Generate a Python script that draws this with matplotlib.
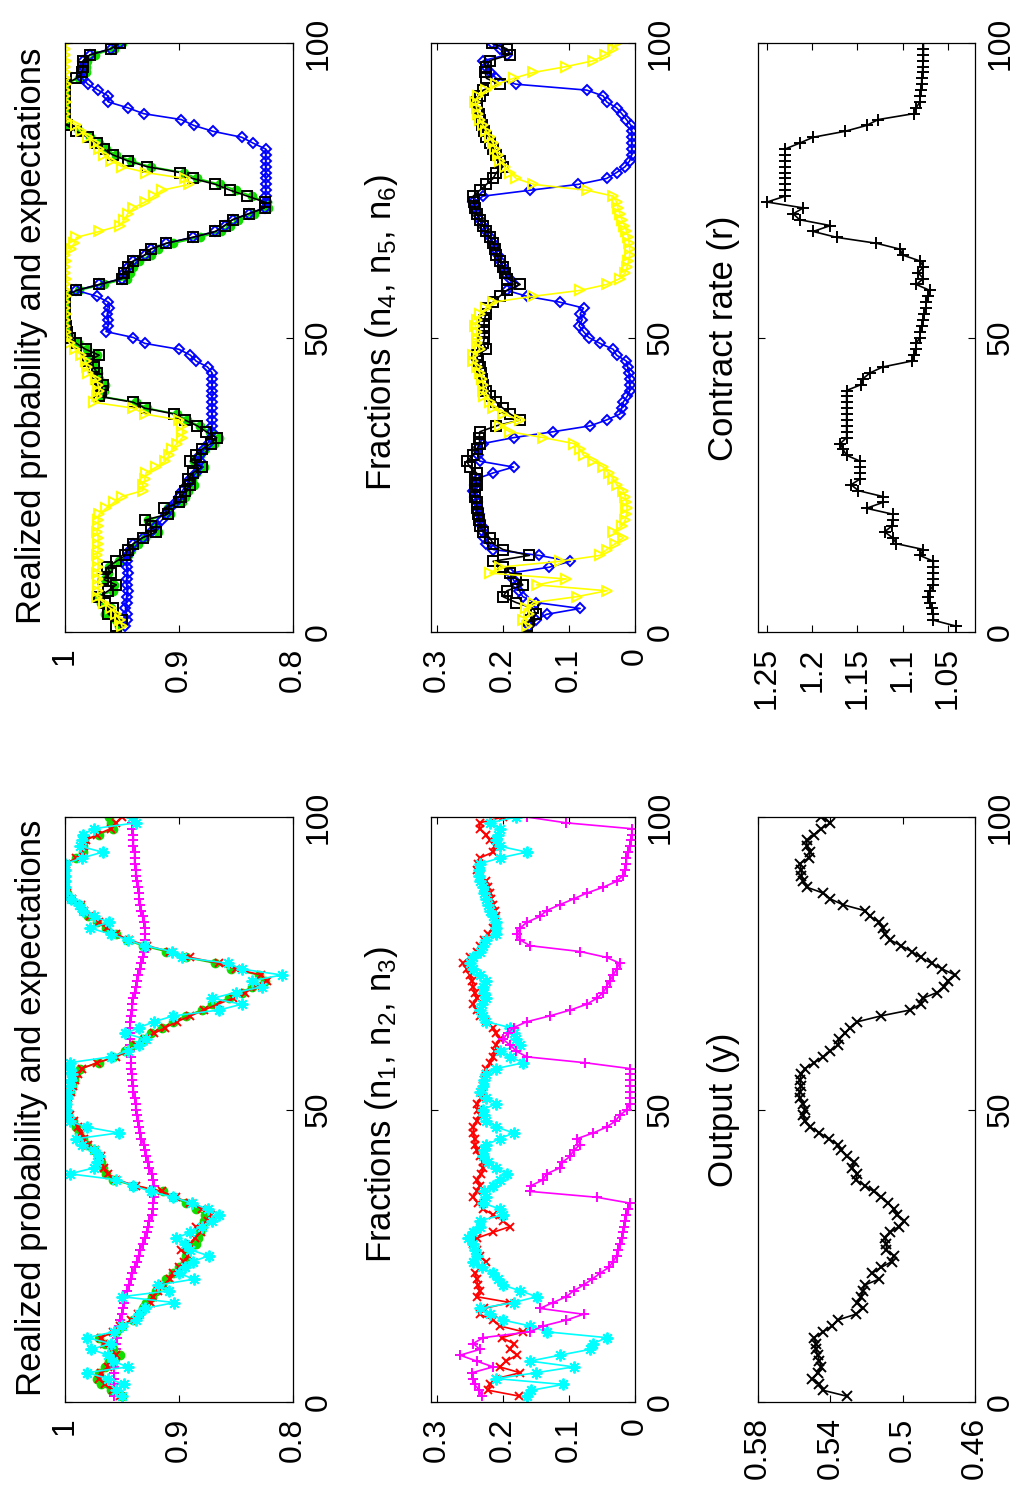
import numpy as np
import matplotlib
matplotlib.use('Agg')
import matplotlib.pyplot as plt

plt.rcParams['font.family'] = ['Liberation Sans', 'DejaVu Sans']
plt.rcParams['mathtext.fontset'] = 'custom'
plt.rcParams['mathtext.rm'] = 'Liberation Sans'
plt.rcParams['mathtext.it'] = 'Liberation Sans:italic'

W, H = 1016, 1488

# time index (periods 1..100)
t = np.arange(1, 101)

# ---- realized probability and expectations (first group) ----
prob_a_green = [0.950, 0.960, 0.968, 0.972, 0.970, 0.965, 0.961, 0.952, 0.958, 0.965,
                0.970, 0.955, 0.950, 0.940, 0.935, 0.932, 0.929, 0.924, 0.920, 0.915,
                0.911, 0.905, 0.900, 0.895, 0.894, 0.894, 0.885, 0.883, 0.882, 0.880,
                0.878, 0.877, 0.885, 0.894, 0.905, 0.914, 0.940, 0.958, 0.964, 0.967,
                0.968, 0.970, 0.975, 0.981, 0.984, 0.988, 0.990, 0.993, 0.997, 0.999,
                0.999, 0.998, 0.996, 0.994, 0.992, 0.990, 0.987, 0.970, 0.958, 0.947,
                0.940, 0.932, 0.925, 0.915, 0.905, 0.894, 0.880, 0.871, 0.856, 0.845,
                0.836, 0.825, 0.830, 0.854, 0.868, 0.894, 0.911, 0.932, 0.946, 0.955,
                0.964, 0.972, 0.980, 0.984, 0.987, 0.995, 0.998, 1.000, 1.000, 1.000,
                1.000, 1.000, 0.990, 0.984, 0.984, 0.983, 0.970, 0.958, 0.960, 0.961]
prob_a_red = [0.952, 0.958, 0.965, 0.970, 0.968, 0.962, 0.960, 0.955, 0.960, 0.966,
              0.968, 0.958, 0.952, 0.942, 0.936, 0.930, 0.925, 0.923, 0.918, 0.913,
              0.908, 0.905, 0.900, 0.896, 0.892, 0.898, 0.890, 0.886, 0.881, 0.885,
              0.875, 0.872, 0.880, 0.890, 0.903, 0.915, 0.938, 0.955, 0.962, 0.966,
              0.969, 0.968, 0.974, 0.980, 0.983, 0.986, 0.989, 0.992, 0.996, 0.998,
              0.998, 0.997, 0.995, 0.993, 0.991, 0.989, 0.985, 0.972, 0.955, 0.945,
              0.938, 0.930, 0.922, 0.912, 0.902, 0.890, 0.878, 0.866, 0.853, 0.842,
              0.832, 0.823, 0.828, 0.850, 0.865, 0.890, 0.908, 0.928, 0.944, 0.955,
              0.963, 0.970, 0.978, 0.983, 0.986, 0.994, 0.998, 1.000, 1.000, 1.000,
              1.000, 0.999, 0.990, 0.985, 0.983, 0.982, 0.972, 0.960, 0.955, 0.950]
prob_a_cyan = [0.950, 0.955, 0.948, 0.962, 0.981, 0.945, 0.958, 0.962, 0.977, 0.960,
               0.981, 0.957, 0.950, 0.938, 0.935, 0.930, 0.904, 0.950, 0.909, 0.918,
               0.887, 0.900, 0.895, 0.888, 0.874, 0.890, 0.895, 0.903, 0.890, 0.880,
               0.871, 0.865, 0.875, 0.889, 0.905, 0.925, 0.940, 0.955, 0.996, 0.975,
               0.972, 0.970, 0.975, 0.985, 0.990, 0.953, 0.981, 0.996, 0.998, 0.999,
               0.999, 0.998, 0.997, 0.996, 0.995, 0.994, 0.996, 0.996, 0.960, 0.945,
               0.935, 0.929, 0.947, 0.935, 0.922, 0.905, 0.865, 0.845, 0.871, 0.850,
               0.827, 0.836, 0.810, 0.845, 0.857, 0.897, 0.906, 0.930, 0.945, 0.960,
               0.978, 0.961, 0.975, 0.984, 0.988, 0.995, 1.000, 1.000, 1.000, 1.000,
               1.000, 1.000, 0.985, 0.967, 0.987, 0.985, 0.984, 0.975, 0.938, 0.941]
prob_a_magenta = [0.957, 0.957, 0.957, 0.957, 0.957, 0.957, 0.956, 0.956, 0.955, 0.955,
                  0.954, 0.954, 0.953, 0.952, 0.950, 0.949, 0.948, 0.947, 0.946, 0.944,
                  0.942, 0.941, 0.939, 0.937, 0.935, 0.934, 0.932, 0.930, 0.928, 0.927,
                  0.926, 0.924, 0.923, 0.923, 0.922, 0.922, 0.922, 0.923, 0.924, 0.926,
                  0.927, 0.929, 0.930, 0.931, 0.933, 0.934, 0.935, 0.936, 0.937, 0.938,
                  0.938, 0.939, 0.940, 0.940, 0.941, 0.941, 0.942, 0.942, 0.942, 0.943,
                  0.943, 0.943, 0.943, 0.943, 0.943, 0.942, 0.941, 0.941, 0.940, 0.939,
                  0.938, 0.937, 0.936, 0.934, 0.933, 0.932, 0.931, 0.930, 0.930, 0.930,
                  0.930, 0.931, 0.932, 0.933, 0.934, 0.935, 0.935, 0.936, 0.937, 0.938,
                  0.938, 0.939, 0.939, 0.939, 0.940, 0.940, 0.940, 0.941, 0.941, 0.941]

# ---- realized probability and expectations (second group) ----
prob_b_green = [0.953, 0.955, 0.965, 0.960, 0.968, 0.971, 0.958, 0.957, 0.965, 0.962,
                0.961, 0.953, 0.945, 0.942, 0.936, 0.930, 0.918, 0.922, 0.927, 0.908,
                0.910, 0.897, 0.895, 0.892, 0.887, 0.889, 0.885, 0.878, 0.887, 0.882,
                0.877, 0.869, 0.865, 0.873, 0.882, 0.893, 0.902, 0.928, 0.938, 0.968,
                0.966, 0.965, 0.970, 0.971, 0.974, 0.979, 0.972, 0.981, 0.989, 0.995,
                0.998, 0.999, 1.000, 1.000, 1.000, 1.000, 0.999, 0.988, 0.966, 0.946,
                0.943, 0.940, 0.935, 0.925, 0.918, 0.905, 0.882, 0.863, 0.855, 0.848,
                0.834, 0.822, 0.823, 0.836, 0.850, 0.864, 0.884, 0.896, 0.925, 0.942,
                0.955, 0.964, 0.970, 0.978, 0.988, 0.997, 1.000, 1.000, 1.000, 1.000,
                1.000, 1.000, 1.000, 0.988, 0.982, 0.982, 0.981, 0.974, 0.957, 0.950]
prob_b_blue = [0.947, 0.946, 0.946, 0.947, 0.946, 0.946, 0.945, 0.946, 0.946, 0.945,
               0.946, 0.946, 0.945, 0.943, 0.940, 0.932, 0.925, 0.920, 0.915, 0.911,
               0.908, 0.903, 0.900, 0.897, 0.893, 0.890, 0.885, 0.883, 0.882, 0.882,
               0.878, 0.875, 0.872, 0.871, 0.871, 0.871, 0.871, 0.871, 0.871, 0.871,
               0.871, 0.871, 0.871, 0.871, 0.875, 0.885, 0.890, 0.900, 0.930, 0.940,
               0.964, 0.962, 0.962, 0.963, 0.961, 0.962, 0.972, 0.990, 0.970, 0.950,
               0.948, 0.945, 0.940, 0.930, 0.925, 0.911, 0.888, 0.868, 0.860, 0.853,
               0.839, 0.825, 0.824, 0.824, 0.824, 0.824, 0.824, 0.824, 0.824, 0.824,
               0.824, 0.824, 0.835, 0.845, 0.870, 0.887, 0.898, 0.931, 0.945, 0.962,
               0.962, 0.971, 0.980, 0.985, 0.985, 0.984, 0.984, 0.978, 0.960, 0.952]
prob_b_black = [0.955, 0.950, 0.962, 0.958, 0.965, 0.970, 0.962, 0.955, 0.967, 0.960,
                0.963, 0.955, 0.947, 0.945, 0.940, 0.932, 0.920, 0.925, 0.930, 0.910,
                0.913, 0.900, 0.898, 0.895, 0.890, 0.892, 0.888, 0.880, 0.890, 0.885,
                0.880, 0.872, 0.867, 0.876, 0.884, 0.895, 0.904, 0.930, 0.940, 0.970,
                0.968, 0.967, 0.972, 0.972, 0.975, 0.980, 0.970, 0.982, 0.990, 0.996,
                0.998, 0.999, 1.000, 1.000, 1.000, 1.000, 1.000, 0.990, 0.970, 0.950,
                0.948, 0.945, 0.940, 0.930, 0.925, 0.911, 0.888, 0.868, 0.860, 0.853,
                0.839, 0.825, 0.825, 0.840, 0.855, 0.868, 0.888, 0.899, 0.928, 0.945,
                0.958, 0.966, 0.972, 0.980, 0.990, 0.998, 1.000, 1.000, 1.000, 1.000,
                1.000, 1.000, 1.000, 0.990, 0.985, 0.984, 0.984, 0.978, 0.960, 0.952]
prob_b_yellow = [0.950, 0.952, 0.955, 0.960, 0.966, 0.972, 0.971, 0.971, 0.971, 0.972,
                 0.971, 0.971, 0.972, 0.971, 0.971, 0.971, 0.972, 0.971, 0.971, 0.970,
                 0.964, 0.957, 0.950, 0.932, 0.932, 0.930, 0.929, 0.920, 0.912, 0.909,
                 0.906, 0.902, 0.897, 0.897, 0.897, 0.900, 0.930, 0.940, 0.975, 0.972,
                 0.970, 0.971, 0.973, 0.980, 0.981, 0.982, 0.986, 0.991, 0.996, 0.998,
                 0.999, 1.000, 1.000, 0.999, 1.000, 1.000, 0.999, 1.000, 1.000, 0.999,
                 1.000, 1.000, 0.999, 1.000, 0.995, 0.992, 0.990, 0.970, 0.952, 0.948,
                 0.945, 0.940, 0.930, 0.922, 0.915, 0.891, 0.895, 0.929, 0.950, 0.960,
                 0.966, 0.970, 0.974, 0.980, 0.986, 0.990, 0.999, 1.000, 1.000, 0.999,
                 1.000, 1.000, 0.999, 1.000, 1.000, 1.000, 0.999, 1.000, 1.000, 1.000]

# ---- fractions n1, n2, n3 ----
frac_n1 = [0.175, 0.222, 0.220, 0.210, 0.174, 0.205, 0.195, 0.179, 0.189, 0.184,
           0.202, 0.169, 0.205, 0.215, 0.235, 0.228, 0.189, 0.240, 0.235, 0.238,
           0.240, 0.242, 0.232, 0.225, 0.235, 0.240, 0.245, 0.240, 0.215, 0.189,
           0.200, 0.215, 0.230, 0.238, 0.245, 0.240, 0.235, 0.240, 0.233, 0.230,
           0.230, 0.235, 0.240, 0.242, 0.243, 0.245, 0.245, 0.240, 0.235, 0.238,
           0.240, 0.233, 0.230, 0.230, 0.228, 0.226, 0.225, 0.220, 0.215, 0.212,
           0.210, 0.205, 0.210, 0.215, 0.225, 0.235, 0.240, 0.245, 0.240, 0.243,
           0.245, 0.247, 0.250, 0.255, 0.260, 0.250, 0.240, 0.235, 0.228, 0.222,
           0.215, 0.212, 0.210, 0.212, 0.215, 0.218, 0.220, 0.223, 0.225, 0.235,
           0.240, 0.238, 0.235, 0.215, 0.212, 0.220, 0.225, 0.235, 0.235, 0.200]
frac_n2 = [0.164, 0.157, 0.109, 0.210, 0.150, 0.093, 0.159, 0.114, 0.068, 0.063,
           0.043, 0.134, 0.159, 0.200, 0.220, 0.235, 0.184, 0.149, 0.174, 0.200,
           0.208, 0.215, 0.232, 0.245, 0.240, 0.243, 0.245, 0.253, 0.245, 0.235,
           0.235, 0.200, 0.205, 0.230, 0.225, 0.228, 0.215, 0.205, 0.194, 0.210,
           0.222, 0.230, 0.228, 0.225, 0.205, 0.184, 0.210, 0.225, 0.228, 0.230,
           0.210, 0.225, 0.235, 0.230, 0.228, 0.225, 0.210, 0.169, 0.190, 0.205,
           0.174, 0.180, 0.184, 0.189, 0.225, 0.230, 0.235, 0.232, 0.225, 0.228,
           0.230, 0.225, 0.235, 0.245, 0.250, 0.245, 0.235, 0.230, 0.225, 0.210,
           0.210, 0.210, 0.215, 0.220, 0.222, 0.225, 0.228, 0.230, 0.235, 0.237,
           0.236, 0.235, 0.205, 0.164, 0.205, 0.210, 0.208, 0.205, 0.220, 0.180]
frac_n3 = [0.232, 0.236, 0.243, 0.245, 0.247, 0.215, 0.240, 0.265, 0.235, 0.245,
           0.230, 0.159, 0.139, 0.104, 0.078, 0.144, 0.124, 0.104, 0.093, 0.078,
           0.065, 0.053, 0.040, 0.033, 0.028, 0.025, 0.023, 0.020, 0.018, 0.016,
           0.015, 0.013, 0.010, 0.008, 0.058, 0.159, 0.157, 0.139, 0.134, 0.114,
           0.110, 0.098, 0.093, 0.083, 0.088, 0.063, 0.043, 0.030, 0.023, 0.012,
           0.008, 0.008, 0.008, 0.008, 0.008, 0.008, 0.008, 0.076, 0.164, 0.180,
           0.189, 0.200, 0.193, 0.184, 0.164, 0.129, 0.098, 0.073, 0.058, 0.048,
           0.043, 0.038, 0.033, 0.028, 0.023, 0.043, 0.083, 0.159, 0.174, 0.179,
           0.174, 0.164, 0.144, 0.134, 0.114, 0.093, 0.073, 0.048, 0.028, 0.018,
           0.015, 0.013, 0.013, 0.010, 0.008, 0.006, 0.005, 0.005, 0.104, 0.164]

# ---- fractions n4, n5, n6 ----
frac_n4 = [0.160, 0.150, 0.134, 0.083, 0.150, 0.170, 0.175, 0.179, 0.185, 0.189,
           0.130, 0.098, 0.145, 0.215, 0.225, 0.228, 0.230, 0.232, 0.235, 0.236,
           0.238, 0.240, 0.242, 0.245, 0.243, 0.240, 0.215, 0.184, 0.235, 0.238,
           0.240, 0.230, 0.184, 0.124, 0.068, 0.043, 0.023, 0.020, 0.018, 0.012,
           0.008, 0.008, 0.008, 0.009, 0.011, 0.013, 0.028, 0.033, 0.053, 0.070,
           0.078, 0.085, 0.080, 0.083, 0.078, 0.114, 0.164, 0.194, 0.184, 0.190,
           0.197, 0.200, 0.205, 0.208, 0.212, 0.215, 0.220, 0.226, 0.230, 0.235,
           0.240, 0.242, 0.245, 0.230, 0.159, 0.086, 0.043, 0.028, 0.015, 0.008,
           0.005, 0.005, 0.005, 0.005, 0.005, 0.006, 0.013, 0.020, 0.028, 0.043,
           0.048, 0.073, 0.180, 0.210, 0.220, 0.225, 0.230, 0.194, 0.205, 0.217]
frac_n5 = [0.164, 0.160, 0.150, 0.154, 0.180, 0.200, 0.194, 0.170, 0.180, 0.189,
           0.200, 0.215, 0.160, 0.200, 0.215, 0.220, 0.230, 0.235, 0.236, 0.238,
           0.240, 0.240, 0.242, 0.243, 0.240, 0.242, 0.240, 0.250, 0.255, 0.245,
           0.240, 0.235, 0.236, 0.235, 0.210, 0.174, 0.189, 0.200, 0.210, 0.220,
           0.225, 0.230, 0.232, 0.233, 0.235, 0.238, 0.240, 0.225, 0.230, 0.228,
           0.228, 0.229, 0.228, 0.226, 0.225, 0.215, 0.205, 0.194, 0.174, 0.194,
           0.197, 0.200, 0.205, 0.210, 0.212, 0.215, 0.220, 0.225, 0.230, 0.235,
           0.240, 0.242, 0.244, 0.245, 0.235, 0.225, 0.215, 0.210, 0.200, 0.205,
           0.210, 0.215, 0.220, 0.225, 0.228, 0.232, 0.235, 0.237, 0.240, 0.240,
           0.235, 0.230, 0.205, 0.225, 0.227, 0.225, 0.220, 0.190, 0.194, 0.217]
frac_n6 = [0.164, 0.170, 0.160, 0.165, 0.154, 0.088, 0.043, 0.149, 0.104, 0.220,
           0.205, 0.114, 0.053, 0.043, 0.030, 0.018, 0.033, 0.020, 0.015, 0.013,
           0.012, 0.013, 0.015, 0.018, 0.028, 0.033, 0.040, 0.048, 0.063, 0.078,
           0.083, 0.093, 0.139, 0.190, 0.205, 0.174, 0.200, 0.215, 0.220, 0.228,
           0.230, 0.230, 0.232, 0.235, 0.240, 0.245, 0.245, 0.235, 0.240, 0.240,
           0.240, 0.242, 0.240, 0.235, 0.225, 0.215, 0.154, 0.083, 0.043, 0.023,
           0.015, 0.012, 0.010, 0.008, 0.008, 0.009, 0.010, 0.013, 0.016, 0.020,
           0.023, 0.026, 0.028, 0.033, 0.073, 0.154, 0.180, 0.190, 0.197, 0.205,
           0.208, 0.212, 0.215, 0.220, 0.225, 0.230, 0.235, 0.238, 0.240, 0.242,
           0.238, 0.225, 0.210, 0.184, 0.154, 0.104, 0.063, 0.045, 0.033, 0.028]

# ---- output and contract rate ----
output_y = [0.531, 0.544, 0.546, 0.550, 0.547, 0.545, 0.546, 0.547, 0.548, 0.548,
            0.549, 0.544, 0.539, 0.536, 0.526, 0.522, 0.525, 0.523, 0.522, 0.521,
            0.513, 0.517, 0.512, 0.506, 0.505, 0.509, 0.509, 0.510, 0.507, 0.502,
            0.499, 0.503, 0.505, 0.508, 0.512, 0.516, 0.521, 0.526, 0.525, 0.528,
            0.527, 0.531, 0.534, 0.536, 0.541, 0.546, 0.551, 0.554, 0.555, 0.554,
            0.555, 0.557, 0.557, 0.556, 0.557, 0.556, 0.554, 0.549, 0.544, 0.540,
            0.536, 0.535, 0.532, 0.529, 0.525, 0.512, 0.496, 0.490, 0.489, 0.481,
            0.477, 0.475, 0.471, 0.478, 0.484, 0.490, 0.495, 0.501, 0.507, 0.510,
            0.511, 0.513, 0.518, 0.521, 0.533, 0.540, 0.544, 0.553, 0.555, 0.556,
            0.556, 0.557, 0.552, 0.551, 0.553, 0.553, 0.549, 0.545, 0.540, 0.545]
contract_r = [1.041, 1.066, 1.066, 1.068, 1.070, 1.072, 1.070, 1.066, 1.066, 1.066,
              1.066, 1.066, 1.081, 1.077, 1.107, 1.111, 1.120, 1.112, 1.111, 1.111,
              1.140, 1.122, 1.122, 1.149, 1.157, 1.147, 1.147, 1.147, 1.147, 1.162,
              1.166, 1.169, 1.162, 1.162, 1.162, 1.162, 1.162, 1.162, 1.162, 1.162,
              1.162, 1.146, 1.144, 1.136, 1.122, 1.090, 1.087, 1.085, 1.085, 1.081,
              1.081, 1.079, 1.077, 1.076, 1.074, 1.074, 1.072, 1.070, 1.085, 1.077,
              1.083, 1.077, 1.081, 1.100, 1.103, 1.129, 1.173, 1.199, 1.180, 1.214,
              1.221, 1.210, 1.250, 1.230, 1.230, 1.230, 1.230, 1.230, 1.230, 1.230,
              1.230, 1.230, 1.214, 1.199, 1.164, 1.140, 1.127, 1.088, 1.085, 1.081,
              1.081, 1.080, 1.079, 1.079, 1.078, 1.078, 1.077, 1.077, 1.077, 1.077]

prob_ticks = [1.0, 0.9, 0.8]
prob_labels = ['1', '0.9', '0.8']
frac_ticks = [0.3, 0.2, 0.1, 0.0]
frac_labels = ['0.3', '0.2', '0.1', '0']
r_ticks = [1.25, 1.2, 1.15, 1.1, 1.05]
r_labels = ['1.25', '1.2', '1.15', '1.1', '1.05']
y_ticks = [0.58, 0.54, 0.5, 0.46]
y_labels = ['0.58', '0.54', '0.5', '0.46']
time_ticks = [0, 50, 100]
time_labels = ['0', '50', '100']

fig = plt.figure(figsize=(W / 100, H / 100), dpi=100)


def panel(x0, x1, y0, y1, vlim, vticks, vlabels):
    # page is turned a quarter: value runs left-right (reversed), time bottom-up
    ax = fig.add_axes([x0 / W, 1 - y1 / H, (x1 - x0) / W, (y1 - y0) / H])
    ax.set_xlim(vlim)
    ax.set_ylim(0, 100)
    ax.set_xticks(vticks)
    ax.set_xticklabels(vlabels, rotation=90, ha='center', va='top')
    ax.set_yticks(time_ticks)
    ax.set_yticklabels(time_labels, rotation=90, ha='left', va='center')
    ax.tick_params(axis='both', direction='in', length=5, width=0.8,
                   top=True, bottom=True, left=True, right=True, labelsize=23)
    ax.tick_params(axis='x', pad=11)
    ax.tick_params(axis='y', labelleft=False, labelright=True, pad=8)
    for s in ax.spines.values():
        s.set_linewidth(0.9)
    return ax


def title(xc, yc, text):
    fig.text(xc / W, 1 - yc / H, text, rotation=90, ha='center', va='center',
             fontsize=25)


lw = 1.2
mw = 1.4
GREEN = '#11dd00'
YELLOW = '#ffff00'

# first group of probabilities
ax = panel(65, 293, 817, 1402, (1.0, 0.8), prob_ticks, prob_labels)
ax.plot(prob_a_magenta, t, color='#ff00ff', lw=lw, marker='+', ms=7.5, mew=mw)
ax.plot(prob_a_green, t, color=GREEN, lw=lw, marker='o', ms=6)
ax.plot(prob_a_red, t, color='red', lw=lw, marker='x', ms=5.5, mew=mw)
ax.plot(prob_a_cyan, t, color='cyan', lw=lw, marker=(8, 2, 0), ms=8.5, mew=mw)
title(32, 1108, 'Realized probability and expectations')

# second group of probabilities
ax = panel(65, 293, 43, 632, (1.0, 0.8), prob_ticks, prob_labels)
ax.plot(prob_b_green, t, color=GREEN, lw=lw, marker='o', ms=6)
ax.plot(prob_b_blue, t, color='blue', lw=lw, marker='D', ms=5.5, mfc='none', mew=mw)
ax.plot(prob_b_black, t, color='black', lw=lw, marker='s', ms=7.5, mfc='none', mew=mw)
ax.plot(prob_b_yellow, t, color=YELLOW, lw=lw, marker='>', ms=7.5, mfc='none', mew=mw)
title(32, 336, 'Realized probability and expectations')

# fractions n1..n3
ax = panel(431, 635, 817, 1402, (0.309, 0.0), frac_ticks, frac_labels)
ax.plot(frac_n1, t, color='red', lw=lw, marker='x', ms=5.5, mew=mw)
ax.plot(frac_n2, t, color='cyan', lw=lw, marker=(8, 2, 0), ms=8.5, mew=mw)
ax.plot(frac_n3, t, color='#ff00ff', lw=lw, marker='+', ms=7.5, mew=mw)
title(382, 1105, 'Fractions (n$_1$, n$_2$, n$_3$)')

# fractions n4..n6
ax = panel(431, 635, 43, 632, (0.309, 0.0), frac_ticks, frac_labels)
ax.plot(frac_n4, t, color='blue', lw=lw, marker='D', ms=5.5, mfc='none', mew=mw)
ax.plot(frac_n5, t, color='black', lw=lw, marker='s', ms=7.5, mfc='none', mew=mw)
ax.plot(frac_n6, t, color=YELLOW, lw=lw, marker='>', ms=7.5, mfc='none', mew=mw)
title(382, 333, 'Fractions (n$_4$, n$_5$, n$_6$)')

# output
ax = panel(758, 975, 817, 1402, (0.58, 0.46), y_ticks, y_labels)
ax.plot(output_y, t, color='black', lw=lw, marker='x', ms=6.5, mew=mw)
title(723, 1110, 'Output (y)')

# contract rate
ax = panel(758, 975, 43, 632, (1.26, 1.02), r_ticks, r_labels)
ax.plot(contract_r, t, color='black', lw=lw, marker='+', ms=8.5, mew=mw)
title(723, 338, 'Contract rate (r)')

fig.savefig('out.png', dpi=100)
